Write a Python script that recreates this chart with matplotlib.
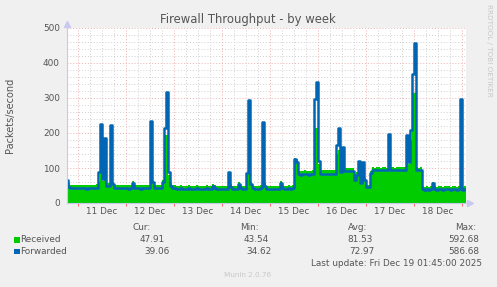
import numpy as np
import matplotlib.pyplot as plt
from matplotlib.patches import Rectangle

# hourly samples, hour 0 = 11 Dec 00:00
hours = np.arange(-6, 194)

forwarded = [
    66, 47, 43, 43, 42, 43,
    # 11 Dec
    42, 43, 42, 42, 41, 42, 43, 42, 42, 44, 90, 226, 70, 185, 48, 50, 223, 55, 42, 43, 42, 42, 43, 42,
    # 12 Dec
    42, 41, 43, 57, 43, 42, 42, 41, 42, 43, 42, 42, 235, 60, 43, 42, 42, 42, 60, 213, 316, 90, 50, 43,
    # 13 Dec
    42, 41, 41, 42, 40, 41, 41, 42, 41, 40, 41, 42, 41, 41, 40, 41, 42, 41, 40, 50, 42, 41, 41, 40,
    # 14 Dec
    41, 40, 41, 88, 45, 41, 41, 40, 54, 42, 40, 41, 87, 294, 55, 42, 41, 40, 41, 42, 232, 50, 41, 40,
    # 15 Dec
    40, 41, 40, 41, 41, 58, 42, 41, 41, 42, 41, 42, 125, 118, 82, 81, 82, 83, 82, 81, 82, 83, 296, 345,
    # 16 Dec
    120, 84, 83, 84, 83, 84, 83, 84, 84, 166, 213, 89, 161, 92, 91, 92, 92, 91, 66, 80, 120, 56, 118, 66,
    # 17 Dec
    45, 45, 85, 94, 93, 94, 94, 93, 94, 94, 93, 197, 94, 94, 93, 94, 94, 95, 94, 94, 194, 118, 210, 369,
    # 18 Dec
    456, 94, 93, 94, 40, 38, 39, 38, 39, 56, 39, 38, 40, 39, 38, 39, 40, 39, 38, 39, 39, 38, 39, 297,
    # 19 Dec
    38, 39,
]

received = [
    70, 56, 52, 52, 51, 52,
    51, 52, 51, 51, 50, 51, 52, 51, 51, 53, 60, 150, 62, 120, 56, 58, 150, 60, 51, 52, 51, 51, 52, 51,
    51, 50, 52, 62, 52, 51, 51, 50, 51, 52, 51, 51, 150, 62, 52, 51, 51, 51, 65, 194, 194, 80, 58, 52,
    50, 49, 49, 50, 48, 49, 49, 50, 49, 48, 49, 50, 49, 49, 48, 49, 50, 49, 48, 55, 50, 49, 49, 48,
    49, 48, 49, 75, 53, 49, 49, 48, 60, 50, 48, 49, 80, 151, 60, 50, 49, 48, 49, 50, 190, 56, 49, 48,
    48, 49, 48, 49, 49, 62, 50, 49, 49, 50, 49, 50, 128, 125, 92, 91, 92, 93, 92, 91, 92, 93, 214, 214,
    110, 94, 93, 94, 93, 94, 93, 94, 94, 140, 150, 97, 140, 100, 99, 100, 100, 99, 74, 88, 110, 62, 108, 72,
    52, 52, 92, 102, 101, 102, 102, 101, 102, 102, 101, 160, 102, 102, 101, 102, 102, 103, 102, 102, 160, 110, 180, 314,
    314, 102, 101, 102, 48, 47, 48, 47, 48, 60, 48, 47, 49, 48, 47, 48, 49, 48, 47, 48, 48, 47, 48, 200,
    47, 48,
]

day_labels = ["11 Dec", "12 Dec", "13 Dec", "14 Dec", "15 Dec", "16 Dec", "17 Dec", "18 Dec"]
y_ticks = [0, 100, 200, 300, 400, 500]

legend_rows = [
    ("Received", "#00CC00", ["47.91", "43.54", "81.53", "592.68"]),
    ("Forwarded", "#0066B3", ["39.06", "34.62", "72.97", "586.68"]),
]

W, H = 497, 287
txt = "#555555"
bg = "#F0F0F0"

fig = plt.figure(figsize=(W / 100, H / 100), dpi=100, facecolor=bg)
ax = fig.add_axes([66.7 / W, 1 - 203 / H, (466 - 66.7) / W, (203 - 28) / H])
ax.set_facecolor("white")

# grid (minor gray, major red), behind the data
for y in range(20, 501, 20):
    c = "#EDB0B0" if y % 100 == 0 else "#D0D0D0"
    ax.axhline(y, color=c, lw=0.7, ls=(0, (1, 2)), zorder=0)
for h in range(-6, 194, 6):
    c = "#EDB0B0" if h % 24 == 0 else "#D0D0D0"
    ax.axvline(h, color=c, lw=0.7, ls=(0, (1, 2)), zorder=0)

xs = np.append(hours, hours[-1] + 1)
rec = np.append(received, received[-1])
fwd = np.append(forwarded, forwarded[-1])
ax.fill_between(xs, 0, rec, step="post", color="#00CC00", lw=0, zorder=2)
ax.step(xs, fwd, where="post", color="#0066B3", lw=1.8, zorder=3)

ax.set_xlim(-5.65, 194)
ax.set_ylim(0, 500)

ax.set_xticks([12 + 24 * i for i in range(8)], day_labels)
ax.set_xticks(range(0, 194, 24), minor=True)
ax.tick_params(axis="x", which="major", length=0, pad=3, labelsize=6.4, labelcolor=txt)
ax.tick_params(axis="x", which="minor", length=2, color="#FF6060", width=0.7)
ax.set_yticks(y_ticks)
ax.tick_params(axis="y", length=0, pad=5, labelsize=6.4, labelcolor=txt)

for s in ["top", "right"]:
    ax.spines[s].set_visible(False)
for s in ["left", "bottom"]:
    ax.spines[s].set_color("#C8C8F0")
    ax.spines[s].set_linewidth(0.8)
    ax.spines[s].set_zorder(4)
# axis arrows
ax.plot([0], [1.025], marker="^", ms=4, color="#C8C8F0", transform=ax.transAxes, clip_on=False)
ax.plot([1.01], [0], marker=">", ms=4, color="#C8C8F0", transform=ax.transAxes, clip_on=False)

ax.set_ylabel("Packets/second", fontsize=7, color=txt)
ax.yaxis.set_label_coords(-0.13, 0.5)

fig.text(248 / W, 1 - 20 / H, "Firewall Throughput - by week", ha="center", va="center",
         fontsize=8.4, color=txt)
fig.text(489 / W, 1 - 50 / H, "RRDTOOL / TOBI OETIKER", rotation=270, ha="center", va="center",
         fontsize=5.2, color="#C8C8C8")

# legend table
def ftext(x, y, s, **kw):
    fig.text(x / W, 1 - y / H, s, va="center", fontsize=6.4, color=txt, **kw)

for x, lab in zip([151, 259, 367, 476], ["Cur:", "Min:", "Avg:", "Max:"]):
    ftext(x, 228, lab, ha="right")

col_right = [[165, 269, 373, 479], [170, 272, 375, 479]]
for r, (name, color, vals) in enumerate(legend_rows):
    y = 239.5 + 11.8 * r
    fig.patches.append(Rectangle((14 / W, 1 - (y + 3) / H), 5.5 / W, 5.5 / H,
                                 transform=fig.transFigure, color=color, lw=0))
    ftext(20.5, y, name, ha="left")
    for x, v in zip(col_right[r], vals):
        ftext(x, y, v, ha="right")

ftext(482, 263.5, "Last update: Fri Dec 19 01:45:00 2025", ha="right")
fig.text(248 / W, 1 - 275 / H, "Munin 2.0.76", ha="center", va="center", fontsize=5.2, color="#C8C8C8")

fig.savefig("out.png", dpi=100, facecolor=bg)
